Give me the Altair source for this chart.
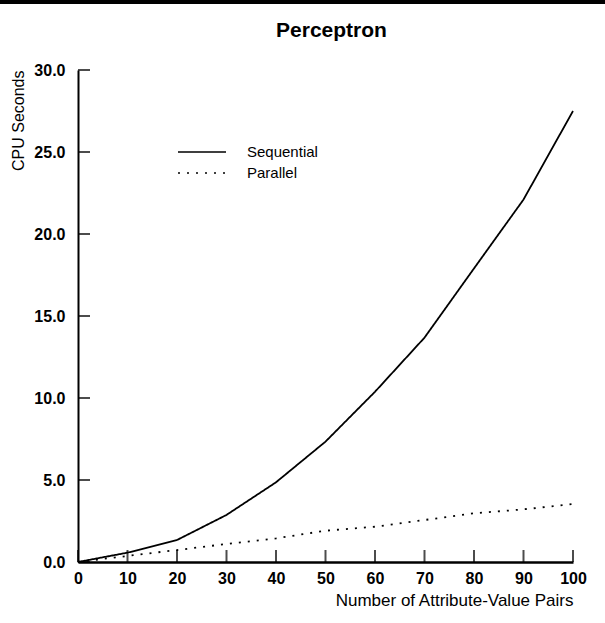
import altair as alt
import pandas as pd

pairs = [0, 10, 20, 30, 40, 50, 60, 70, 80, 90, 100]
sequential = [0.0, 0.57, 1.34, 2.87, 4.86, 7.34, 10.38, 13.68, 17.9, 22.1, 27.5]
parallel = [0.0, 0.37, 0.73, 1.10, 1.44, 1.91, 2.15, 2.56, 2.97, 3.21, 3.54]
series_names = ["Sequential", "Parallel"]
x_ticks = [0, 10, 20, 30, 40, 50, 60, 70, 80, 90, 100]
y_ticks = [0, 5, 10, 15, 20, 25, 30]

rows = []
for name, vals in zip(series_names, [sequential, parallel]):
    for p, v in zip(pairs, vals):
        rows.append({"x": p, "y": v, "series": name})
df = pd.DataFrame(rows)
xt = pd.DataFrame({"x": x_ticks})
yt = pd.DataFrame({"y": y_ticks})

FONT = "Liberation Sans"
W, H = 495, 492

xscale = alt.Scale(domain=[0, 100], nice=False, zero=False)
yscale = alt.Scale(domain=[0, 30], nice=False)

lines = alt.Chart(df).mark_line(color="black", strokeWidth=1.8, clip=False).encode(
    x=alt.X("x:Q", scale=xscale,
            axis=alt.Axis(values=x_ticks, format="d", ticks=False, grid=False,
                          labelFlush=False, labelBound=False, labelOverlap=False,
                          domainColor="black", domainWidth=2.5,
                          labelFont=FONT, labelFontSize=16, labelFontWeight="bold",
                          labelColor="black", labelPadding=8,
                          title="Number of Attribute-Value Pairs",
                          titleFont=FONT, titleFontSize=17, titleFontWeight="normal",
                          titleColor="black", titleAnchor="end", titleAlign="right",
                          titleX=W, titleY=38, titleBaseline="middle")),
    y=alt.Y("y:Q", scale=yscale,
            axis=alt.Axis(values=y_ticks, format=".1f", ticks=False, grid=False,
                          labelFlush=False, labelBound=False, labelOverlap=False,
                          domainColor="black", domainWidth=2,
                          labelFont=FONT, labelFontSize=16, labelFontWeight="bold",
                          labelColor="black", labelPadding=13,
                          title="CPU Seconds",
                          titleFont=FONT, titleFontSize=16, titleFontWeight="normal",
                          titleColor="black", titleAngle=-90, titleAlign="right",
                          titleBaseline="middle", titleX=-60, titleY=0)),
    strokeDash=alt.StrokeDash(
        "series:N",
        sort=series_names,
        scale=alt.Scale(domain=series_names, range=[[1, 0], [2, 7]]),
        legend=alt.Legend(title=None, orient="none", legendX=99, legendY=72,
                          symbolType="stroke", symbolSize=2304,
                          symbolStrokeWidth=1.5, symbolStrokeColor="black",
                          labelFont=FONT, labelFontSize=15, labelColor="black",
                          labelOffset=20, clipHeight=20, rowPadding=1),
    ),
)

xticks_layer = alt.Chart(xt).mark_tick(orient="vertical", size=12, thickness=2,
                                       color="black").encode(
    x=alt.X("x:Q", scale=xscale), y=alt.value(H - 6)
)
yticks_layer = alt.Chart(yt).mark_tick(orient="horizontal", size=12, thickness=2,
                                       color="black").encode(
    y=alt.Y("y:Q", scale=yscale), x=alt.value(6)
)
top_bar = alt.Chart(pd.DataFrame({"k": [0]})).mark_rule(
    color="black", strokeWidth=4
).encode(x=alt.value(-78), x2=alt.value(605 - 78), y=alt.value(-68))

chart = alt.layer(top_bar, lines, xticks_layer, yticks_layer).properties(
    width=W, height=H,
    title=alt.TitleParams("Perceptron", font=FONT, fontSize=21, fontWeight="bold",
                          color="black", anchor="middle", frame="group",
                          baseline="alphabetic", offset=0, dy=58, dx=6),
    padding={"left": 78, "top": 70, "right": 32, "bottom": 61},
    autosize=alt.AutoSizeParams(type="none"),
).configure(background="white").configure_view(stroke=None)

chart.save("out.html", embed_options={"renderer": "svg", "actions": False})
